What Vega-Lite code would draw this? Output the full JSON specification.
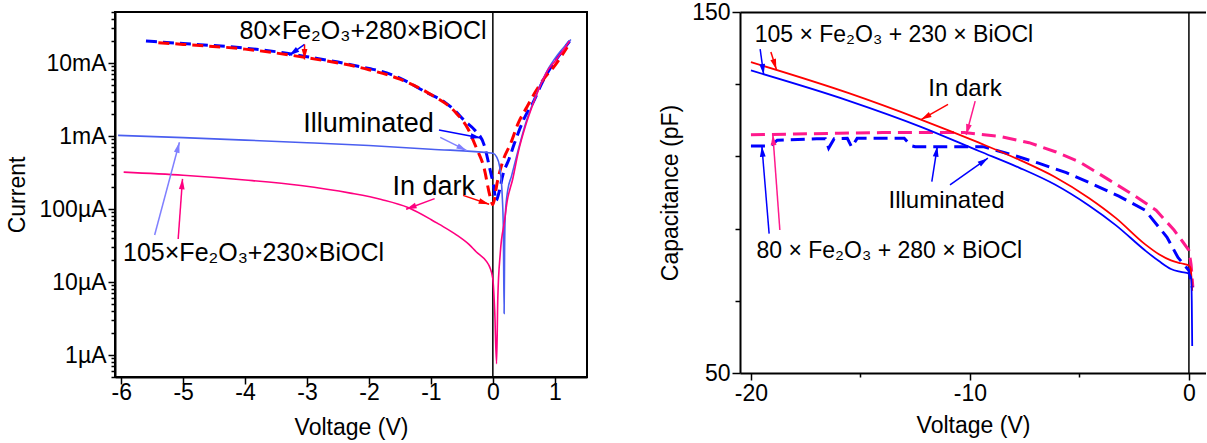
{
  "$schema": "https://vega.github.io/schema/vega-lite/v6.json",
  "padding": {"left": 5, "top": 0, "right": 0, "bottom": 0},
  "background": "white",
  "config": {
    "font": "Liberation Sans",
    "view": {"stroke": "black", "strokeWidth": 2},
    "axis": {"grid": false, "domainColor": "black", "domainWidth": 2, "tickColor": "black", "tickWidth": 1.5,
      "labelColor": "black", "titleColor": "black", "labelFontSize": 23, "titleFontSize": 23,
      "titleFontWeight": "normal", "labelFont": "Liberation Sans", "titleFont": "Liberation Sans", "labelOverlap": false},
    "text": {"font": "Liberation Sans"}
  },
  "datasets": {
    "iv": [
      {"s":"A_illum","v":-5.6,"i":0.020},{"s":"A_illum","v":-5.0,"i":0.0185},{"s":"A_illum","v":-4.0,"i":0.0160},{"s":"A_illum","v":-3.3,"i":0.0135},{"s":"A_illum","v":-3.0,"i":0.0122},{"s":"A_illum","v":-2.5,"i":0.0103},{"s":"A_illum","v":-2.0,"i":0.0084},{"s":"A_illum","v":-1.8,"i":0.0077},{"s":"A_illum","v":-1.5,"i":0.0062},{"s":"A_illum","v":-1.06,"i":0.0039},{"s":"A_illum","v":-0.8,"i":0.0030},{"s":"A_illum","v":-0.63,"i":0.0023},{"s":"A_illum","v":-0.45,"i":0.0016},{"s":"A_illum","v":-0.29,"i":0.0012},{"s":"A_illum","v":-0.14,"i":0.00075},{"s":"A_illum","v":-0.05,"i":0.00036},{"s":"A_illum","v":0.02,"i":0.00019},{"s":"A_illum","v":0.05,"i":0.00013},{"s":"A_illum","v":0.1,"i":0.00017},{"s":"A_illum","v":0.16,"i":0.00029},{"s":"A_illum","v":0.26,"i":0.00048},{"s":"A_illum","v":0.35,"i":0.0008},{"s":"A_illum","v":0.5,"i":0.0017},{"s":"A_illum","v":0.66,"i":0.0030},{"s":"A_illum","v":0.8,"i":0.0055},{"s":"A_illum","v":0.9,"i":0.0078},{"s":"A_illum","v":1.0,"i":0.0105},{"s":"A_illum","v":1.1,"i":0.0138},{"s":"A_illum","v":1.24,"i":0.020},
      {"s":"A_dark","v":-5.4,"i":0.019},{"s":"A_dark","v":-5.0,"i":0.018},{"s":"A_dark","v":-4.0,"i":0.0155},{"s":"A_dark","v":-3.0,"i":0.0118},{"s":"A_dark","v":-2.0,"i":0.0081},{"s":"A_dark","v":-1.5,"i":0.0060},{"s":"A_dark","v":-1.0,"i":0.0037},{"s":"A_dark","v":-0.6,"i":0.0021},{"s":"A_dark","v":-0.4,"i":0.00125},{"s":"A_dark","v":-0.27,"i":0.0007},{"s":"A_dark","v":-0.14,"i":0.00036},{"s":"A_dark","v":-0.05,"i":0.000155},{"s":"A_dark","v":0.0,"i":0.000115},{"s":"A_dark","v":0.07,"i":0.00023},{"s":"A_dark","v":0.16,"i":0.00045},{"s":"A_dark","v":0.29,"i":0.0008},{"s":"A_dark","v":0.41,"i":0.0015},{"s":"A_dark","v":0.55,"i":0.0025},{"s":"A_dark","v":0.7,"i":0.0042},{"s":"A_dark","v":0.85,"i":0.0065},{"s":"A_dark","v":1.0,"i":0.0092},{"s":"A_dark","v":1.1,"i":0.0122},{"s":"A_dark","v":1.2,"i":0.0165},
      {"s":"B_illum","v":-6.05,"i":0.00102},{"s":"B_illum","v":-5.0,"i":0.00095},{"s":"B_illum","v":-4.0,"i":0.00088},{"s":"B_illum","v":-3.0,"i":0.00081},{"s":"B_illum","v":-2.0,"i":0.00074},{"s":"B_illum","v":-1.0,"i":0.00066},{"s":"B_illum","v":0.0,"i":0.00058},{"s":"B_illum","v":0.06,"i":0.00052},{"s":"B_illum","v":0.11,"i":0.00038},{"s":"B_illum","v":0.15,"i":0.00016},{"s":"B_illum","v":0.17,"i":0.00005},{"s":"B_illum","v":0.182,"i":0.0000037},{"s":"B_illum","v":0.19,"i":0.00003},{"s":"B_illum","v":0.2,"i":0.00008},{"s":"B_illum","v":0.24,"i":0.00018},{"s":"B_illum","v":0.3,"i":0.00028},{"s":"B_illum","v":0.4,"i":0.0006},{"s":"B_illum","v":0.53,"i":0.0015},{"s":"B_illum","v":0.66,"i":0.003},{"s":"B_illum","v":0.9,"i":0.0085},{"s":"B_illum","v":1.0,"i":0.0115},{"s":"B_illum","v":1.26,"i":0.021},
      {"s":"B_dark","v":-5.96,"i":0.00032},{"s":"B_dark","v":-5.0,"i":0.00029},{"s":"B_dark","v":-4.0,"i":0.00025},{"s":"B_dark","v":-3.1,"i":0.00021},{"s":"B_dark","v":-2.3,"i":0.000165},{"s":"B_dark","v":-1.8,"i":0.000135},{"s":"B_dark","v":-1.37,"i":0.000105},{"s":"B_dark","v":-1.0,"i":0.000072},{"s":"B_dark","v":-0.87,"i":0.000062},{"s":"B_dark","v":-0.6,"i":0.000045},{"s":"B_dark","v":-0.39,"i":0.000033},{"s":"B_dark","v":-0.27,"i":0.000026},{"s":"B_dark","v":-0.1,"i":0.000019},{"s":"B_dark","v":-0.05,"i":0.000016},{"s":"B_dark","v":0.0,"i":0.000011},{"s":"B_dark","v":0.03,"i":0.000004},{"s":"B_dark","v":0.06,"i":0.00000076},{"s":"B_dark","v":0.08,"i":0.000006},{"s":"B_dark","v":0.12,"i":0.000025},{"s":"B_dark","v":0.19,"i":0.00007},{"s":"B_dark","v":0.23,"i":0.000126},{"s":"B_dark","v":0.32,"i":0.000256},{"s":"B_dark","v":0.41,"i":0.0006},{"s":"B_dark","v":0.53,"i":0.0014},{"s":"B_dark","v":0.66,"i":0.0029},{"s":"B_dark","v":0.9,"i":0.0083},{"s":"B_dark","v":1.0,"i":0.0105},{"s":"B_dark","v":1.24,"i":0.020}
    ],
    "ivtext": [
      {"g":"formula","t":"80×Fe₂O₃+280×BiOCl","v":-4.09,"i":0.0214},
      {"g":"word","t":"Illuminated","v":-3.06,"i":0.00112},
      {"g":"word","t":"In dark","v":-1.62,"i":0.000156},
      {"g":"formula","t":"105×Fe₂O₃+230×BiOCl","v":-5.97,"i":0.0000196}
    ],
    "ivarrow": [
      {"s":"A_illum","v":-3.04,"i":0.01795,"v2":-3.29,"i2":0.0127},
      {"s":"A_dark","v":-3.04,"i":0.01795,"v2":-3.04,"i2":0.0112},
      {"s":"A_illum","v":-0.87,"i":0.00121,"v2":-0.19,"i2":0.00094},
      {"s":"B_illum_arrow","v":-0.85,"i":0.00096,"v2":-0.42,"i2":0.00063},
      {"s":"A_dark","v":-0.48,"i":0.000154,"v2":-0.06,"i2":0.000116},
      {"s":"B_dark","v":-0.94,"i":0.000139,"v2":-1.40,"i2":0.0000993},
      {"s":"B_illum_arrow","v":-5.46,"i":0.000044,"v2":-5.06,"i2":0.00082},
      {"s":"B_dark","v":-5.08,"i":0.0000388,"v2":-5.01,"i2":0.000259}
    ],
    "cv": [
      {"s":"B_dark_r","v":-20.0,"c":136.1},{"s":"B_dark_r","v":-15.53,"c":127.5},{"s":"B_dark_r","v":-12.24,"c":120.2},{"s":"B_dark_r","v":-9.59,"c":113.8},{"s":"B_dark_r","v":-7.76,"c":109.1},{"s":"B_dark_r","v":-6.12,"c":104.3},{"s":"B_dark_r","v":-4.57,"c":98.5},{"s":"B_dark_r","v":-3.33,"c":92.9},{"s":"B_dark_r","v":-2.01,"c":85.7},{"s":"B_dark_r","v":-1.37,"c":82.9},{"s":"B_dark_r","v":-0.82,"c":81.2},{"s":"B_dark_r","v":-0.37,"c":80.4},{"s":"B_dark_r","v":0.0,"c":79.8},{"s":"B_dark_r","v":0.08,"c":79.0},{"s":"B_dark_r","v":0.12,"c":76.0},{"s":"B_dark_r","v":0.15,"c":72.8},
      {"s":"B_illum_r","v":-20.0,"c":133.8},{"s":"B_illum_r","v":-15.53,"c":125.4},{"s":"B_illum_r","v":-12.24,"c":118.2},{"s":"B_illum_r","v":-9.59,"c":111.5},{"s":"B_illum_r","v":-7.76,"c":106.9},{"s":"B_illum_r","v":-6.12,"c":102.2},{"s":"B_illum_r","v":-4.57,"c":96.4},{"s":"B_illum_r","v":-3.33,"c":90.9},{"s":"B_illum_r","v":-2.01,"c":84.0},{"s":"B_illum_r","v":-1.37,"c":81.0},{"s":"B_illum_r","v":-0.82,"c":78.8},{"s":"B_illum_r","v":-0.37,"c":78.0},{"s":"B_illum_r","v":0.0,"c":77.5},{"s":"B_illum_r","v":0.1,"c":76.5},{"s":"B_illum_r","v":0.13,"c":70.0},{"s":"B_illum_r","v":0.15,"c":57.5},
      {"s":"A_dark_r","v":-20.0,"c":116.0},{"s":"A_dark_r","v":-18,"c":116.2},{"s":"A_dark_r","v":-16,"c":116.4},{"s":"A_dark_r","v":-14,"c":116.6},{"s":"A_dark_r","v":-12,"c":116.6},{"s":"A_dark_r","v":-10.26,"c":116.6},{"s":"A_dark_r","v":-8.6,"c":115.5},{"s":"A_dark_r","v":-7.3,"c":113.8},{"s":"A_dark_r","v":-6.1,"c":111.3},{"s":"A_dark_r","v":-5,"c":108.5},{"s":"A_dark_r","v":-3.65,"c":103.5},{"s":"A_dark_r","v":-2.5,"c":99.2},{"s":"A_dark_r","v":-1.5,"c":95.1},{"s":"A_dark_r","v":-0.68,"c":89.6},{"s":"A_dark_r","v":-0.3,"c":86.5},{"s":"A_dark_r","v":0.0,"c":84.0},{"s":"A_dark_r","v":0.1,"c":80.0},{"s":"A_dark_r","v":0.18,"c":73.7},
      {"s":"A_illum_r","v":-20.0,"c":112.9},{"s":"A_illum_r","v":-19.1,"c":112.9},{"s":"A_illum_r","v":-18.8,"c":114.5},{"s":"A_illum_r","v":-17,"c":114.9},{"s":"A_illum_r","v":-16.6,"c":114.9},{"s":"A_illum_r","v":-16.45,"c":112.3},{"s":"A_illum_r","v":-16.2,"c":114.9},{"s":"A_illum_r","v":-15.6,"c":115.0},{"s":"A_illum_r","v":-15.4,"c":112.6},{"s":"A_illum_r","v":-15.15,"c":115.0},{"s":"A_illum_r","v":-13,"c":115.0},{"s":"A_illum_r","v":-12.7,"c":113.0},{"s":"A_illum_r","v":-12.5,"c":112.7},{"s":"A_illum_r","v":-11.9,"c":112.7},{"s":"A_illum_r","v":-9.4,"c":112.7},{"s":"A_illum_r","v":-8,"c":110.3},{"s":"A_illum_r","v":-6.9,"c":108.2},{"s":"A_illum_r","v":-5.6,"c":105.5},{"s":"A_illum_r","v":-4.5,"c":102.6},{"s":"A_illum_r","v":-3.2,"c":99.0},{"s":"A_illum_r","v":-2.0,"c":95.1},{"s":"A_illum_r","v":-1.0,"c":87.6},{"s":"A_illum_r","v":-0.5,"c":82.0},{"s":"A_illum_r","v":0.0,"c":78.4},{"s":"A_illum_r","v":0.15,"c":73.7}
    ],
    "cvtext": [
      {"g":"formula","t":"105 × Fe₂O₃ + 230 × BiOCl","v":-19.83,"c":141.6},
      {"g":"word","t":"In dark","v":-11.9,"c":126.6},
      {"g":"word","t":"Illuminated","v":-13.72,"c":95.7},
      {"g":"formula","t":"80 × Fe₂O₃ + 280 × BiOCl","v":-19.75,"c":81.8}
    ],
    "cvarrow": [
      {"s":"B_illum_r","v":-19.58,"c":139.7,"v2":-19.42,"c2":132.7},
      {"s":"B_dark_r","v":-19.09,"c":138.9,"v2":-18.84,"c2":134.1},
      {"s":"B_dark_r","v":-11.0,"c":124.4,"v2":-12.23,"c2":120.2},
      {"s":"A_dark_r","v":-9.76,"c":125.3,"v2":-10.17,"c2":116.0},
      {"s":"A_illum_r","v":-11.74,"c":103.0,"v2":-11.49,"c2":112.8},
      {"s":"B_illum_r","v":-10.91,"c":102.1,"v2":-9.18,"c2":109.5},
      {"s":"A_illum_r","v":-19.17,"c":88.6,"v2":-19.5,"c2":112.8},
      {"s":"A_dark_r","v":-18.68,"c":89.6,"v2":-19.0,"c2":116.0}
    ]
  },
  "resolve": {"scale": {"color": "independent"}},
  "spacing": 71,
  "hconcat": [
    {
      "width": 472,
      "height": 365,
      "view": {"stroke": "black", "strokeWidth": 2},
      "layer": [
        {
          "data": {"values": [{"v": 0}]},
          "mark": {"type": "rule", "color": "black", "strokeWidth": 1.5},
          "encoding": {
            "x": {"field": "v", "type": "quantitative",
              "scale": {"domain": [-6.1, 1.52], "nice": false, "zero": false},
              "axis": {"title": "Voltage (V)", "values": [-6,-5.5,-5,-4.5,-4,-3.5,-3,-2.5,-2,-1.5,-1,-0.5,0,0.5,1,1.5],
                "labelExpr": "datum.value % 1 === 0 ? '' + datum.value : ''",
                "tickSize": {"condition": {"test": "datum.value % 1 === 0", "value": 7}, "value": 4},
                "labelPadding": -3, "titlePadding": 12}}
          }
        },
        {
          "data": {"name": "iv"},
          "transform": [{"filter": "datum.s === 'A_illum' || datum.s === 'A_dark'"}],
          "mark": {"type": "line", "strokeWidth": 3, "strokeDash": [11, 6], "interpolate": "monotone", "clip": true},
          "encoding": {
            "x": {"field": "v", "type": "quantitative"},
            "y": {"field": "i", "type": "quantitative",
              "scale": {"type": "log", "domain": [0.0000005, 0.05], "nice": false},
              "axis": {"title": "Current",
                "values": [0.0000005,0.0000006,0.0000007,0.0000008,0.0000009,0.000001,0.000002,0.000003,0.000004,0.000005,0.000006,0.000007,0.000008,0.000009,0.00001,0.00002,0.00003,0.00004,0.00005,0.00006,0.00007,0.00008,0.00009,0.0001,0.0002,0.0003,0.0004,0.0005,0.0006,0.0007,0.0008,0.0009,0.001,0.002,0.003,0.004,0.005,0.006,0.007,0.008,0.009,0.01,0.02,0.03,0.04,0.05],
                "labelExpr": "datum.value == 0.01 ? '10mA' : datum.value == 0.001 ? '1mA' : datum.value == 0.0001 ? '100µA' : datum.value == 0.00001 ? '10µA' : datum.value == 0.000001 ? '1µA' : ''",
                "tickSize": {"condition": {"test": "datum.value == 0.01 || datum.value == 0.001 || datum.value == 0.0001 || datum.value == 0.00001 || datum.value == 0.000001", "value": 7}, "value": 4},
                "labelPadding": 2, "titlePadding": 10}},
            "color": {"field": "s", "type": "nominal",
              "scale": {"domain": ["A_illum","A_dark","B_illum","B_dark","B_illum_arrow"], "range": ["#0000ff","#ff0000","#4a5ef0","#ff0080","#8080ff"]},
              "legend": null}
          }
        },
        {
          "data": {"name": "iv"},
          "transform": [{"filter": "datum.s === 'B_illum' || datum.s === 'B_dark'"}],
          "mark": {"type": "line", "strokeWidth": 1.6, "interpolate": "monotone", "clip": true},
          "encoding": {
            "x": {"field": "v", "type": "quantitative"},
            "y": {"field": "i", "type": "quantitative"},
            "color": {"field": "s", "type": "nominal", "legend": null}
          }
        },
        {
          "data": {"name": "ivarrow"},
          "mark": {"type": "rule", "strokeWidth": 1.5},
          "encoding": {
            "x": {"field": "v", "type": "quantitative"},
            "y": {"field": "i", "type": "quantitative"},
            "x2": {"field": "v2"},
            "y2": {"field": "i2"},
            "color": {"field": "s", "type": "nominal", "legend": null}
          }
        },
        {
          "data": {"name": "ivarrow"},
          "transform": [{"calculate": "atan2((datum.v2 - datum.v) * 62, (log(datum.i2) - log(datum.i)) / LN10 * 73) * 180 / PI", "as": "ang"}],
          "mark": {"type": "point", "shape": "M0,0 L-0.55,2 L0.55,2 Z", "filled": true, "opacity": 1, "size": 110, "strokeWidth": 0},
          "encoding": {
            "x": {"field": "v2", "type": "quantitative"},
            "y": {"field": "i2", "type": "quantitative"},
            "angle": {"field": "ang", "type": "quantitative", "scale": null},
            "color": {"field": "s", "type": "nominal", "legend": null}
          }
        },
        {
          "data": {"name": "ivtext"},
          "transform": [{"filter": "datum.g === 'formula'"}],
          "mark": {"type": "text", "align": "left", "baseline": "alphabetic", "fontSize": 25, "color": "black"},
          "encoding": {
            "x": {"field": "v", "type": "quantitative"},
            "y": {"field": "i", "type": "quantitative"},
            "text": {"field": "t"}
          }
        },
        {
          "data": {"name": "ivtext"},
          "transform": [{"filter": "datum.g === 'word'"}],
          "mark": {"type": "text", "align": "left", "baseline": "alphabetic", "fontSize": 27, "color": "black"},
          "encoding": {
            "x": {"field": "v", "type": "quantitative"},
            "y": {"field": "i", "type": "quantitative"},
            "text": {"field": "t"}
          }
        }
      ]
    },
    {
      "width": 466,
      "height": 361,
      "view": {"stroke": null},
      "resolve": {"axis": {"x": "independent"}},
      "layer": [
        {
          "data": {"values": [{"v": 0}]},
          "mark": {"type": "rule", "color": "black", "strokeWidth": 1.5},
          "encoding": {
            "x": {"field": "v", "type": "quantitative",
              "scale": {"domain": [-20.5, 0.78], "nice": false, "zero": false},
              "axis": {"orient": "top", "labels": false, "ticks": false, "title": null, "domain": true}}
          }
        },
        {
          "data": {"name": "cv"},
          "transform": [{"filter": "datum.s === 'A_illum_r' || datum.s === 'A_dark_r'"}],
          "mark": {"type": "line", "strokeWidth": 3, "strokeDash": [14, 7], "interpolate": "linear", "clip": true},
          "encoding": {
            "x": {"field": "v", "type": "quantitative",
              "axis": {"title": "Voltage (V)", "values": [-20,-15,-10,-5,0],
                "labelExpr": "datum.value % 10 === 0 ? '' + datum.value : ''",
                "tickSize": {"condition": {"test": "datum.value % 10 === 0", "value": 7}, "value": 4},
                "labelPadding": 2, "titlePadding": 9}},
            "y": {"field": "c", "type": "quantitative",
              "scale": {"domain": [50, 150], "nice": false, "zero": false},
              "axis": {"title": "Capacitance (pF)", "values": [50,60,70,80,90,100,110,120,130,140,150],
                "labelExpr": "datum.value % 50 === 0 ? '' + datum.value : ''",
                "tickSize": {"condition": {"test": "datum.value % 50 === 0", "value": 8}, "value": 5},
                "labelPadding": 2, "titlePadding": 9}},
            "color": {"field": "s", "type": "nominal",
              "scale": {"domain": ["B_dark_r","B_illum_r","A_dark_r","A_illum_r"], "range": ["#ff0000","#0000ff","#ff1a8c","#0000ff"]},
              "legend": null}
          }
        },
        {
          "data": {"name": "cv"},
          "transform": [{"filter": "datum.s === 'B_illum_r' || datum.s === 'B_dark_r'"}],
          "mark": {"type": "line", "strokeWidth": 1.8, "interpolate": "monotone", "clip": true},
          "encoding": {
            "x": {"field": "v", "type": "quantitative", "axis": null},
            "y": {"field": "c", "type": "quantitative"},
            "color": {"field": "s", "type": "nominal", "legend": null}
          }
        },
        {
          "data": {"name": "cvarrow"},
          "mark": {"type": "rule", "strokeWidth": 1.5},
          "encoding": {
            "x": {"field": "v", "type": "quantitative", "axis": null},
            "y": {"field": "c", "type": "quantitative"},
            "x2": {"field": "v2"},
            "y2": {"field": "c2"},
            "color": {"field": "s", "type": "nominal", "legend": null}
          }
        },
        {
          "data": {"name": "cvarrow"},
          "transform": [{"calculate": "atan2((datum.v2 - datum.v) * 21.9, (datum.c2 - datum.c) * 3.59) * 180 / PI", "as": "ang"}],
          "mark": {"type": "point", "shape": "M0,0 L-0.55,2 L0.55,2 Z", "filled": true, "opacity": 1, "size": 110, "strokeWidth": 0},
          "encoding": {
            "x": {"field": "v2", "type": "quantitative", "axis": null},
            "y": {"field": "c2", "type": "quantitative"},
            "angle": {"field": "ang", "type": "quantitative", "scale": null},
            "color": {"field": "s", "type": "nominal", "legend": null}
          }
        },
        {
          "data": {"name": "cvtext"},
          "transform": [{"filter": "datum.g === 'formula'"}],
          "mark": {"type": "text", "align": "left", "baseline": "alphabetic", "fontSize": 23, "color": "black"},
          "encoding": {
            "x": {"field": "v", "type": "quantitative", "axis": null},
            "y": {"field": "c", "type": "quantitative"},
            "text": {"field": "t"}
          }
        },
        {
          "data": {"name": "cvtext"},
          "transform": [{"filter": "datum.g === 'word'"}],
          "mark": {"type": "text", "align": "left", "baseline": "alphabetic", "fontSize": 24, "color": "black"},
          "encoding": {
            "x": {"field": "v", "type": "quantitative", "axis": null},
            "y": {"field": "c", "type": "quantitative"},
            "text": {"field": "t"}
          }
        }
      ]
    }
  ]
}
